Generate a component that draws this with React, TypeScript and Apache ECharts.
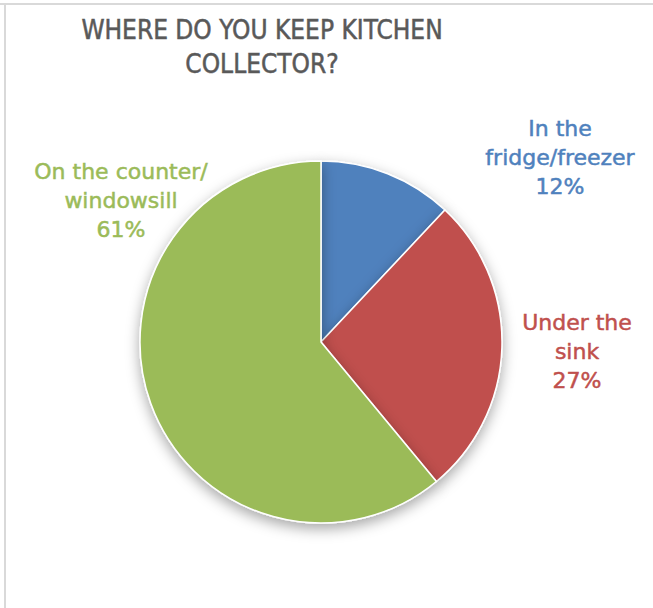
import React, { useEffect, useRef } from "react";
import * as echarts from "echarts";

const titleLines = ["WHERE DO YOU KEEP KITCHEN", "COLLECTOR?"];
const categories = ["In the\nfridge/freezer", "Under the\nsink", "On the counter/\nwindowsill"];
const values = [12, 27, 61];
const colors = ["#4F81BD", "#C0504D", "#9BBB59"];
const labelPos = [
  [560, 157],
  [577, 351],
  [121, 200],
];

export default function App() {
  const ref = useRef<HTMLDivElement>(null);
  useEffect(() => {
    if (!ref.current) return;
    const chart = echarts.init(ref.current, null, { renderer: "svg" });
    chart.setOption({
      animation: false,
      backgroundColor: "#ffffff",
      title: {
        text: titleLines.join("\n"),
        left: 257,
        top: 8,
        textAlign: "center",
        textStyle: {
          fontFamily: "'Liberation Sans Narrow', 'DejaVu Sans Condensed', 'Liberation Sans', sans-serif",
          fontSize: 26,
          fontWeight: "normal",
          color: "#595959",
          lineHeight: 34,
          textBorderColor: "#595959",
          textBorderWidth: 0.5,
        },
      },
      graphic: [
        {
          type: "line",
          shape: { x1: 0, y1: 4, x2: 653, y2: 4 },
          style: { stroke: "#d9d9d9", lineWidth: 2 },
        },
        {
          type: "line",
          shape: { x1: 5, y1: 4, x2: 5, y2: 608 },
          style: { stroke: "#d9d9d9", lineWidth: 2 },
        },
      ],
      series: [
        {
          type: "pie",
          center: [321, 342],
          radius: 181,
          startAngle: 90,
          clockwise: true,
          avoidLabelOverlap: false,
          itemStyle: {
            borderColor: "#ffffff",
            borderWidth: 1.5,
            shadowBlur: 14,
            shadowOffsetY: 5,
            shadowColor: "rgba(0,0,0,0.35)",
          },
          label: {
            show: true,
            position: "outside",
            fontFamily: "'DejaVu Sans', sans-serif",
            fontSize: 22,
            lineHeight: 29,
            align: "center",
            textBorderWidth: 0.5,
            formatter: (p: any) => `${p.name}\n${p.value}%`,
          },
          labelLine: { show: false },
          labelLayout: (p: any) => ({
            x: labelPos[p.dataIndex][0],
            y: labelPos[p.dataIndex][1],
            align: "center",
            verticalAlign: "middle",
          }),
          emphasis: { disabled: true },
          data: categories.map((c, i) => ({
            name: c,
            value: values[i],
            itemStyle: { color: colors[i] },
            label: { color: colors[i], textBorderColor: colors[i] },
          })),
        },
      ],
    });
    return () => chart.dispose();
  }, []);
  return (
    <div
      ref={ref}
      style={{ position: "absolute", left: 0, top: 0, width: 653, height: 608 }}
    />
  );
}
